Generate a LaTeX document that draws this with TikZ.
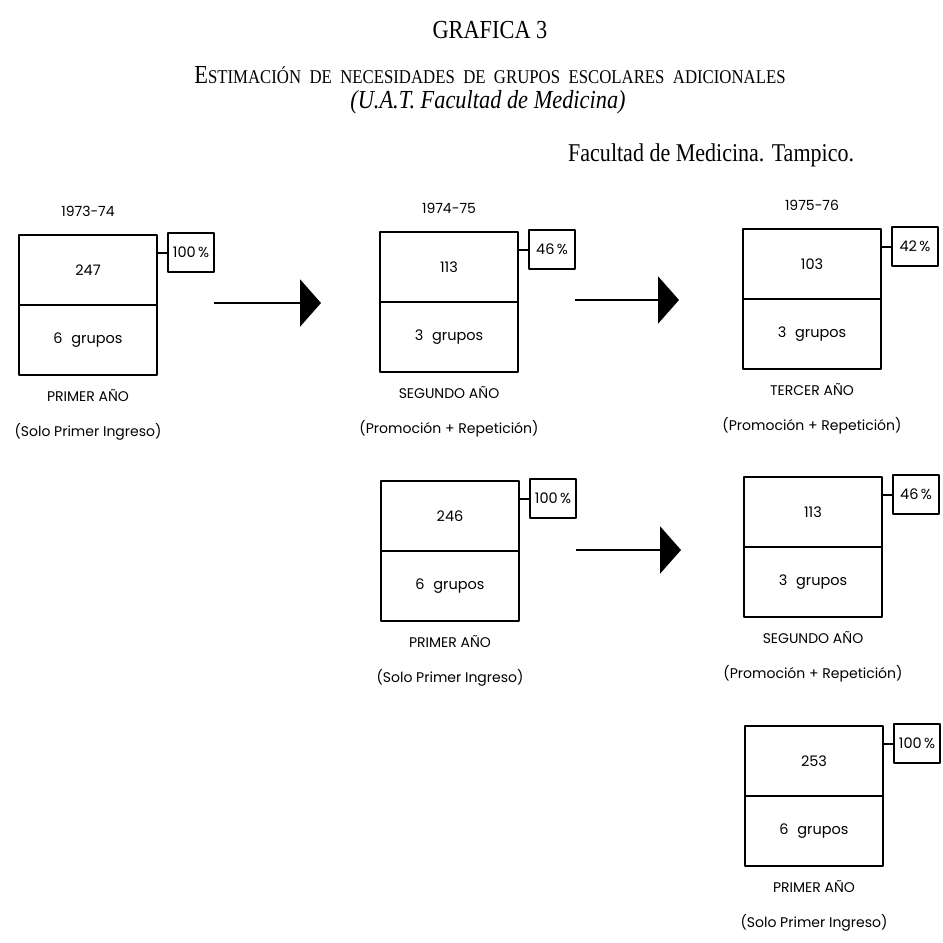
\documentclass[tikz,border=0pt]{standalone}
\usepackage{fontspec}
\setsansfont{Poppins}
\newfontfamily\condserif[FakeStretch=0.86]{Liberation Serif}
\usetikzlibrary{positioning,arrows.meta}

\newcommand{\initcap}[1]{{\fontsize{26}{28}\selectfont #1}}

\tikzset{
  cell/.style={draw, line width=2.4pt, outer sep=0pt, minimum width=138pt, minimum height=70pt, inner sep=0pt},
  pctbox/.style={draw, line width=2.2pt, outer sep=0pt, minimum width=46pt, minimum height=39pt, inner sep=0pt},
  flow/.style={line width=2.8pt, -{Triangle[length=21pt,width=47pt]}},
  lab/.style={font=\sffamily\fontsize{14}{16}\selectfont, inner sep=0pt}
}

\begin{document}
\begin{tikzpicture}[x=1pt,y=-1pt,line join=round,font=\sffamily\fontsize{14.5}{16}\selectfont]

	\useasboundingbox[fill=white] (0,0) rectangle (943,943);

	% headings
	\node[font=\condserif\fontsize{26}{30}\selectfont] (title) at (490,30) {GRAFICA 3};
	\node[font=\condserif\fontsize{19.5}{22}\selectfont, inner sep=0pt] (subtitle) at (490,75)
		{\initcap{E}STIMACIÓN\ \ DE\ \ NECESIDADES\ \ DE\ \ GRUPOS\ \ ESCOLARES\ \ ADICIONALES};
	\node[font=\condserif\itshape\fontsize{26}{28}\selectfont, inner sep=0pt] (unit) at (488,102) {(U.A.T. Facultad de Medicina)};
	\node[font=\condserif\fontsize{25.6}{28}\selectfont, anchor=west, inner sep=0pt] (place) at (568,155) {Facultad de Medicina. Tampico.};

	% one block per course
	\foreach \n/\x/\y/\num/\grp/\pct/\stage/\sub in {a/88/235/247/6/100/PRIMER AÑO/Solo Primer Ingreso,%
		b/449/232/113/3/46/SEGUNDO AÑO/Promoción + Repetición,%
		c/812/229/103/3/42/TERCER AÑO/Promoción + Repetición,%
		d/450/481/246/6/100/PRIMER AÑO/Solo Primer Ingreso,%
		e/813/477/113/3/46/SEGUNDO AÑO/Promoción + Repetición,%
		f/814/726/253/6/100/PRIMER AÑO/Solo Primer Ingreso}
	{
		\node[cell] (\n-top) at (\x,\y+35) {\num};
		\node[cell, below=0pt of \n-top] (\n-bot) {\grp\hspace{0.6em}grupos};
		\node[pctbox, anchor=north west] (\n-pct) at ([xshift=11pt,yshift=2pt]\n-top.north east) {\pct\,\%};
		\draw[line width=2pt] (\n-top.east |- \n-pct.west) -- (\n-pct.west);
		\node[lab, below=14pt of \n-bot] (\n-stage) {\stage};
		\node[lab, below=48pt of \n-bot] (\n-sub) {(\sub)};
	}

	% school years
	\node[lab, above=18pt of a-top] (ya) {1973-74};
	\node[lab, above=18pt of b-top] (yb) {1974-75};
	\node[lab, above=18pt of c-top] (yc) {1975-76};

	% arrows
	\coordinate (ab) at (321,303);
	\coordinate (bc) at (679,300);
	\coordinate (de) at (681,550);
	\draw[flow] (a-pct.east |- ab) -- (ab);
	\draw[flow] (b-pct.east |- bc) -- (bc);
	\draw[flow] (d-pct.east |- de) -- (de);

\end{tikzpicture}
\end{document}
